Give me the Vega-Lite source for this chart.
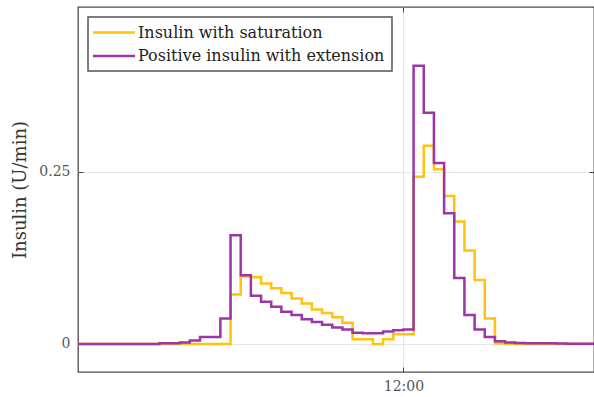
{
  "$schema": "https://vega.github.io/schema/vega-lite/v6.json",
  "width": 516,
  "height": 365,
  "autosize": {"type": "none"},
  "padding": {"left": 78, "top": 7, "right": 0, "bottom": 25},
  "background": "white",
  "config": {
    "view": {"stroke": "#4d4d4d", "strokeWidth": 1.3},
    "font": "DejaVu Serif",
    "legend": {"strokeWidth": 1.5}
  },
  "data": {
    "values": [
      {"t": 560, "sat": 0, "ext": 0},
      {"t": 565, "sat": 0, "ext": 0},
      {"t": 570, "sat": 0, "ext": 0},
      {"t": 575, "sat": 0, "ext": 0},
      {"t": 580, "sat": 0, "ext": 0},
      {"t": 585, "sat": 0, "ext": 0},
      {"t": 590, "sat": 0, "ext": 0},
      {"t": 595, "sat": 0, "ext": 0},
      {"t": 600, "sat": 0, "ext": 0.001},
      {"t": 605, "sat": 0, "ext": 0.001},
      {"t": 610, "sat": 0, "ext": 0.002},
      {"t": 615, "sat": 0, "ext": 0.005},
      {"t": 620, "sat": 0, "ext": 0.010},
      {"t": 625, "sat": 0, "ext": 0.010},
      {"t": 630, "sat": 0, "ext": 0.037},
      {"t": 635, "sat": 0.072, "ext": 0.158},
      {"t": 640, "sat": 0.098, "ext": 0.100},
      {"t": 645, "sat": 0.097, "ext": 0.070},
      {"t": 650, "sat": 0.088, "ext": 0.0615},
      {"t": 655, "sat": 0.081, "ext": 0.054},
      {"t": 660, "sat": 0.074, "ext": 0.047},
      {"t": 665, "sat": 0.066, "ext": 0.042},
      {"t": 670, "sat": 0.059, "ext": 0.036},
      {"t": 675, "sat": 0.050, "ext": 0.032},
      {"t": 680, "sat": 0.045, "ext": 0.028},
      {"t": 685, "sat": 0.039, "ext": 0.024},
      {"t": 690, "sat": 0.031, "ext": 0.021},
      {"t": 695, "sat": 0.007, "ext": 0.0165},
      {"t": 700, "sat": 0.007, "ext": 0.0155},
      {"t": 705, "sat": 0.0, "ext": 0.0155},
      {"t": 710, "sat": 0.007, "ext": 0.018},
      {"t": 715, "sat": 0.014, "ext": 0.020},
      {"t": 720, "sat": 0.014, "ext": 0.021},
      {"t": 725, "sat": 0.243, "ext": 0.4045},
      {"t": 730, "sat": 0.288, "ext": 0.336},
      {"t": 735, "sat": 0.254, "ext": 0.263},
      {"t": 740, "sat": 0.215, "ext": 0.190},
      {"t": 745, "sat": 0.178, "ext": 0.096},
      {"t": 750, "sat": 0.136, "ext": 0.042},
      {"t": 755, "sat": 0.093, "ext": 0.021},
      {"t": 760, "sat": 0.037, "ext": 0.010},
      {"t": 765, "sat": 0.001, "ext": 0.004},
      {"t": 770, "sat": 0, "ext": 0.002},
      {"t": 775, "sat": 0, "ext": 0.0015},
      {"t": 780, "sat": 0, "ext": 0.001},
      {"t": 785, "sat": 0, "ext": 0.001},
      {"t": 790, "sat": 0, "ext": 0.001},
      {"t": 795, "sat": 0, "ext": 0.0008},
      {"t": 800, "sat": 0, "ext": 0.0005},
      {"t": 805, "sat": 0, "ext": 0.0005},
      {"t": 810, "sat": 0, "ext": 0.0005},
      {"t": 815, "sat": 0, "ext": 0.0005}
    ]
  },
  "transform": [{"fold": ["sat", "ext"], "as": ["series", "v"]}],
  "layer": [
    {
      "mark": {"type": "line", "interpolate": "step-after", "strokeWidth": 2.5, "clip": true},
      "encoding": {
        "x": {
          "field": "t", "type": "quantitative",
          "scale": {"domain": [560, 813.7], "nice": false, "zero": false},
          "axis": {
            "orient": "bottom", "values": [720], "labelExpr": "'12:00'", "title": null,
            "grid": true, "gridColor": "#e6e6e6", "domain": false,
            "ticks": true, "tickSize": -5, "tickColor": "#444", "labelPadding": 12,
            "labelFontSize": 14, "labelColor": "#555", "labelFont": "DejaVu Serif"
          }
        },
        "y": {
          "field": "v", "type": "quantitative",
          "scale": {"domain": [-0.0407, 0.4898], "nice": false, "zero": false},
          "axis": {
            "orient": "left", "values": [0, 0.25], "labelExpr": "datum.value == 0 ? '0' : '0.25'",
            "title": "Insulin (U/min)", "titleFont": "DejaVu Serif", "titleFontSize": 18,
            "titleFontWeight": "normal", "titleColor": "#333", "titleX": -58, "titleY": 182.5,
            "titleAngle": -90, "titleAlign": "center", "titleBaseline": "middle",
            "grid": true, "gridColor": "#e6e6e6", "domain": false,
            "ticks": true, "tickSize": -5, "tickColor": "#444", "labelPadding": 13,
            "labelFontSize": 14, "labelColor": "#555", "labelFont": "DejaVu Serif"
          }
        },
        "color": {
          "field": "series", "type": "nominal",
          "scale": {"domain": ["sat", "ext"], "range": ["#FFC20E", "#9C36A6"]},
          "legend": {
            "orient": "none", "legendX": 10, "legendY": 10, "title": null,
            "labelExpr": "datum.value == 'sat' ? 'Insulin with saturation' : 'Positive insulin with extension'",
            "symbolType": "M-1.5,0L4.5,0", "symbolSize": 196, "symbolStrokeWidth": 2.5,
            "labelFont": "DejaVu Serif", "labelFontSize": 16, "labelColor": "#222", "labelLimit": 0,
            "labelOffset": 26, "strokeColor": "#555", "fillColor": "#ffffff",
            "padding": 7, "rowPadding": 6.5, "symbolOffset": 0
          }
        }
      }
    },
    {
      "mark": {"type": "line", "opacity": 0},
      "encoding": {
        "x": {
          "field": "t", "type": "quantitative",
          "axis": {"orient": "top", "values": [720], "labels": false, "title": null, "grid": false, "domain": false, "tickSize": -5, "tickColor": "#444"}
        },
        "y": {
          "field": "v", "type": "quantitative",
          "axis": {"orient": "right", "values": [0, 0.25], "labels": false, "title": null, "grid": false, "domain": false, "tickSize": -5, "tickColor": "#444"}
        }
      }
    }
  ],
  "resolve": {"axis": {"x": "independent", "y": "independent"}}
}
